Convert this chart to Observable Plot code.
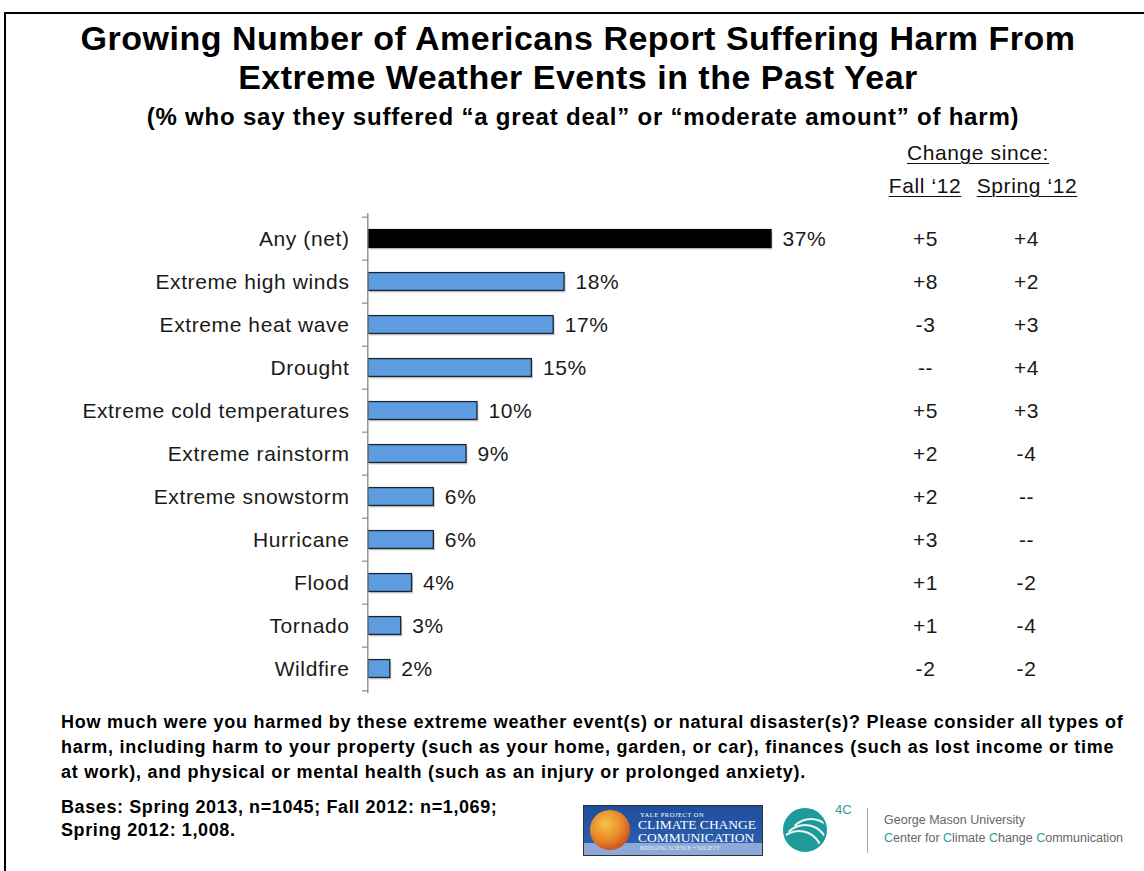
<!DOCTYPE html>
<html>
<head>
<meta charset="utf-8">
<script src="https://cdn.jsdelivr.net/npm/d3@7"></script>
<script src="https://cdn.jsdelivr.net/npm/@observablehq/plot@0.6"></script>
<style>
  body { margin: 0; background: #fff; font-family: "Liberation Sans", Arial, Helvetica, sans-serif; color: #111; }
  #page { position: relative; width: 1144px; height: 871px; overflow: hidden; background: #fff; }
  .frame-top { position: absolute; left: 4px; top: 12px; width: 1150px; height: 2px; background: #000; }
  .frame-left { position: absolute; left: 4px; top: 12px; width: 2px; height: 870px; background: #000; }
  .abs { position: absolute; white-space: nowrap; }
  #title { left: 0; width: 1156px; top: 19px; text-align: center; font-weight: bold; font-size: 34px; letter-spacing: 0.5px; line-height: 39px; color: #000; }
  #subtitle { left: 0; width: 1166px; top: 103px; text-align: center; font-weight: bold; font-size: 24px; letter-spacing: 0.8px; line-height: 28px; color: #000; }
  .hdr { font-size: 21px; letter-spacing: 0.6px; line-height: 24px; text-decoration: underline; text-underline-offset: 3px; text-decoration-thickness: 1px; color: #111; text-align: center; }
  #chart { position: absolute; left: 0; top: 140px; }
  #question { left: 61px; top: 710px; font-weight: bold; font-size: 18px; letter-spacing: 0.75px; line-height: 25px; color: #000; }
  #bases { left: 61px; top: 796px; font-weight: bold; font-size: 18px; letter-spacing: 0.6px; line-height: 23px; color: #000; }
  #yale { position: absolute; left: 583px; top: 805px; width: 178px; height: 49px; border: 1px solid #333;
          background: linear-gradient(180deg, #1e4e9c 0%, #2b5eae 75%, #8ea9d8 76%, #8ea9d8 100%); overflow: hidden; }
  #globe { position: absolute; left: 6px; top: 4px; width: 40px; height: 40px; border-radius: 50%;
           background: radial-gradient(circle at 40% 35%, #f6c24a 0%, #e8892a 45%, #c9481c 80%, #8a2a10 100%); }
  .ytxt { position: absolute; color: #fff; font-family: "Liberation Serif", "DejaVu Serif", serif; white-space: nowrap; }
  #c4 { position: absolute; left: 783px; top: 808px; width: 44px; height: 44px; border-radius: 50%;
        background: #1f9a9b; border: 2px solid #1f9a9b; box-sizing: border-box; overflow: hidden; }
  .swirl { position: absolute; border: 2px solid #e8f6f6; border-radius: 50%; border-left-color: transparent; border-bottom-color: transparent; }
  #gmu { left: 884px; top: 811px; font-size: 12.5px; line-height: 18px; color: #666; }
  .teal { color: #2a9c9c; }
</style>
</head>
<body>
<div id="page">
  <div class="frame-top"></div>
  <div class="frame-left"></div>
  <div id="title" class="abs">Growing Number of Americans Report Suffering Harm From<br>Extreme Weather Events in the Past Year</div>
  <div id="subtitle" class="abs">(% who say they suffered “a great deal” or “moderate amount” of harm)</div>
  <div class="abs hdr" style="left:878px; width:200px; top:141px;">Change since:</div>
  <div class="abs hdr" style="left:875px; width:100px; top:174px;">Fall ‘12</div>
  <div class="abs hdr" style="left:967px; width:120px; top:174px;">Spring ‘12</div>
  <div id="chart"></div>
  <div id="question" class="abs">How much were you harmed by these extreme weather event(s) or natural disaster(s)? Please consider all types of<br>harm, including harm to your property (such as your home, garden, or car), finances (such as lost income or time<br>at work), and physical or mental health (such as an injury or prolonged anxiety).</div>
  <div id="bases" class="abs">Bases: Spring 2013, n=1045; Fall 2012: n=1,069;<br>Spring 2012: 1,008.</div>
  <div id="yale">
    <div id="globe"></div>
    <div class="ytxt" style="left:56px; top:5px; font-size:6.5px; letter-spacing:0.5px;">YALE PROJECT ON</div>
    <div class="ytxt" style="left:54px; top:12px; font-size:13.5px; line-height:13px;">CLIMATE CHANGE<br>COMMUNICATION</div>
    <div class="ytxt" style="left:56px; top:39px; font-size:5.5px; color:#e8eefa;">BRIDGING SCIENCE + SOCIETY</div>
  </div>
  <div id="c4">
    <div class="swirl" style="left:2px; top:8px; width:44px; height:44px;"></div>
    <div class="swirl" style="left:-4px; top:14px; width:44px; height:44px;"></div>
    <div class="swirl" style="left:-10px; top:20px; width:44px; height:44px;"></div>
  </div>
  <div class="abs teal" style="left:835px; top:802px; font-size:13px;">4C</div>
  <div class="abs" style="left:867px; top:808px; width:1px; height:45px; background:#aaa;"></div>
  <div id="gmu" class="abs">George Mason University<br><span class="teal">C</span>enter for <span class="teal">C</span>limate <span class="teal">C</span>hange <span class="teal">C</span>ommunication</div>
</div>
<script>
const categories = ["Any (net)", "Extreme high winds", "Extreme heat wave", "Drought",
  "Extreme cold temperatures", "Extreme rainstorm", "Extreme snowstorm", "Hurricane",
  "Flood", "Tornado", "Wildfire"];
const values = [37, 18, 17, 15, 10, 9, 6, 6, 4, 3, 2];
const changeFall12 = ["+5", "+8", "-3", "--", "+5", "+2", "+2", "+3", "+1", "+1", "-2"];
const changeSpring12 = ["+4", "+2", "+3", "+4", "+3", "-4", "--", "--", "-2", "-4", "-2"];

const data = categories.map((c, i) => ({
  category: c, value: values[i], fall: changeFall12[i], spring: changeSpring12[i], net: i === 0
}));

const H = 570, mTop = 73, mBottom = 17;
const bw = (H - mTop - mBottom) / categories.length;
const inset = (bw - 18.5) / 2;
const font = '"Liberation Sans", Arial, Helvetica, sans-serif';

const chart = Plot.plot({
  width: 1144, height: H,
  marginTop: mTop, marginBottom: mBottom, marginLeft: 368, marginRight: 373,
  x: { domain: [0, d3.max(values)], axis: null },
  y: { domain: categories, padding: 0, axis: null },
  style: { fontFamily: font, fontSize: "21px", letterSpacing: "0.6px", color: "#1a1a1a", background: "transparent", overflow: "visible" },
  marks: [
    Plot.barX(data, { x: "value", y: "category", fill: "#c8c8c8", insetTop: inset, insetBottom: inset, dx: 1.5, dy: 2 }),
    Plot.barX(data.filter(d => !d.net), { x: "value", y: "category", fill: "#5d9cdf", stroke: "#1c2633", strokeWidth: 1.3, insetTop: inset, insetBottom: inset }),
    Plot.barX(data.filter(d => d.net), { x: "value", y: "category", fill: "#000", stroke: "#000", strokeWidth: 1.3, insetTop: inset, insetBottom: inset }),
    Plot.ruleX([0], { stroke: "#8f8f8f", strokeWidth: 1.4, dx: -0.7 }),
    Plot.axisY({ tickSize: 6, text: null, label: null, stroke: "#8f8f8f", strokeWidth: 1.2, dy: -bw / 2 }),
    Plot.axisY([categories[categories.length - 1]], { tickSize: 6, text: null, label: null, stroke: "#8f8f8f", strokeWidth: 1.2, dy: bw / 2 }),
    Plot.axisY({ tickSize: 0, tickPadding: 19, label: null, fontSize: 21, fill: "#1a1a1a" }),
    Plot.text(data, { x: "value", y: "category", text: d => d.value + "%", textAnchor: "start", dx: 11, fontSize: 21, fill: "#1a1a1a" }),
    Plot.text(data, { y: "category", text: "fall", frameAnchor: "right", textAnchor: "middle", dx: 154, fontSize: 21, fill: "#1a1a1a" }),
    Plot.text(data, { y: "category", text: "spring", frameAnchor: "right", textAnchor: "middle", dx: 255, fontSize: 21, fill: "#1a1a1a" })
  ]
});
document.getElementById("chart").appendChild(chart);
</script>
</body>
</html>
